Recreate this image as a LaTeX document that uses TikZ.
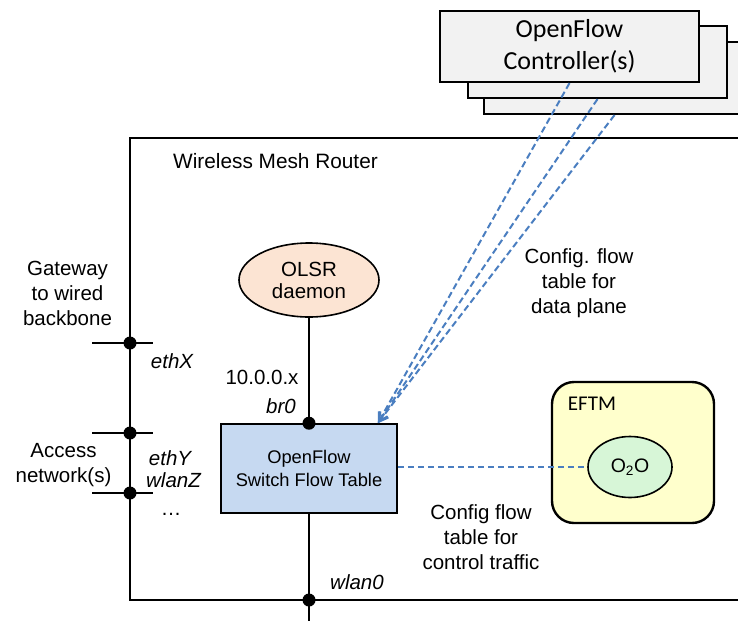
\documentclass[tikz,border=0pt]{standalone}
\usepackage{fontspec}
\setmainfont{Liberation Sans}
\newfontfamily\calfont{Carlito}
\usetikzlibrary{shapes.geometric,arrows.meta,calc}

\definecolor{ctrlfill}{HTML}{F2F2F2}
\definecolor{swfill}{HTML}{C6D9F1}
\definecolor{olsrfill}{HTML}{FCE4D3}
\definecolor{eftmfill}{HTML}{FFFFCC}
\definecolor{oofill}{HTML}{D7F6D7}
\definecolor{cfgblue}{HTML}{4A7EC0}

\tikzset{
  wire/.style={line width=1.8pt, black},
  frame/.style={line width=1.4pt, black},
  joint/.style={circle, fill=black, inner sep=0pt, minimum size=13pt},
  ctrlbox/.style={draw, line width=2.2pt, fill=ctrlfill, inner sep=0pt,
    align=center, font=\calfont\fontsize{26}{32}\selectfont},
  label/.style={inner sep=0pt, align=center, font=\fontsize{20.5}{25}\selectfont},
  iflabel/.style={inner sep=0pt, font=\itshape\fontsize{20.5}{25}\selectfont},
  cfgline/.style={cfgblue, line width=2pt, dash pattern=on 6.5pt off 3.5pt},
  cfgarrow/.style={cfgline, -{Straight Barb[length=9pt,width=10pt,line width=1.8pt]}}
}

\begin{document}
\begin{tikzpicture}[x=1pt, y=-1pt]
\useasboundingbox (0,0) rectangle (738,621);

% router enclosure; its left edge doubles as the external bus
\draw[frame] (745,138) -- (130,138) -- (130,600) -- (745,600);

% external interfaces
\draw[wire] (92,343) -- (153,343);
\draw[wire] (92,433) -- (153,433);
\draw[wire] (92,493) -- (153,493);
\node[joint] (ethx) at (130,343) {};
\node[joint] (ethy) at (130,433) {};
\node[joint] (wlanz) at (130,493) {};

% controller stack
\node[ctrlbox, minimum width=261pt, minimum height=72pt] (ctrl3) at (614.5,78) {};
\node[ctrlbox, minimum width=259pt, minimum height=72pt] (ctrl2) at (597.5,62) {};
\node[ctrlbox, minimum width=259pt, minimum height=71pt] (ctrl1) at (569.5,46.5)
  {OpenFlow\\Controller(s)};

% router internals
\node[draw, line width=1.6pt, ellipse, fill=olsrfill, minimum width=140pt,
  minimum height=74pt, inner sep=0pt, align=center,
  font=\fontsize{20.5}{22}\selectfont] (olsr) at (309,280) {OLSR\\daemon};
\node[draw, line width=1.6pt, fill=swfill, minimum width=176pt, minimum height=89pt,
  inner sep=0pt, align=center, font=\fontsize{18.3}{22.5}\selectfont]
  (sw) at (309,468.5) {OpenFlow\\Switch Flow Table};

\node[joint] (br0) at (sw.north) {};
\coordinate (wout) at (309,621);
\node[joint] (wlan0) at (309,600) {};
\draw[wire] (olsr.south) -- (br0);
\draw[wire] (sw.south) -- (wout);

% EFTM module
\node[draw, line width=2.4pt, rounded corners=22pt, fill=eftmfill,
  minimum width=162pt, minimum height=141pt] (eftm) at (633,452.5) {};
\node[inner sep=0pt, font=\calfont\fontsize{21}{25}\selectfont] (eftmlbl) at (592,404) {EFTM};
\node[draw, line width=1.6pt, ellipse, fill=oofill, minimum width=84pt,
  minimum height=61pt, inner sep=0pt, font=\fontsize{19.5}{22}\selectfont]
  (oo) at (630,467) {O\textsubscript{2}O};

% configuration channels
\coordinate (swtip) at ($(sw.north east)+(-20,0)$);
\draw[cfgarrow] (ctrl1.south) -- (swtip);
\draw[cfgarrow] (ctrl2.south) -- (swtip);
\draw[cfgarrow] (ctrl3.south) -- (swtip);
\draw[cfgline] (sw.east |- oo.west) -- (oo.west);

% text labels
\node[label, font=\fontsize{20.8}{25}\selectfont] (title) at (275.5,161) {Wireless Mesh Router};
\node[label] (gw) at (67.5,293) {Gateway\\to wired\\backbone};
\node[label] (acc) at (63.5,465.5) {Access\\network(s)};
\node[iflabel] (lethx) at (172,361) {ethX};
\node[iflabel] (lethy) at (170,458) {ethY};
\node[iflabel] (lwlanz) at (173.5,480) {wlanZ};
\node[label, anchor=base] (ldots) at (171,515) {\dots};
\node[label] (lip) at (262,377) {10.0.0.x};
\node[iflabel] (lbr0) at (281,406) {br0};
\node[iflabel] (lwlan0) at (357,582) {wlan0};
\node[label] (cfgdata) at (579,283) {Config. flow\\table for\\data plane};
\node[label] (cfgctrl) at (481,537) {Config flow\\table for\\control traffic};
\end{tikzpicture}
\end{document}
